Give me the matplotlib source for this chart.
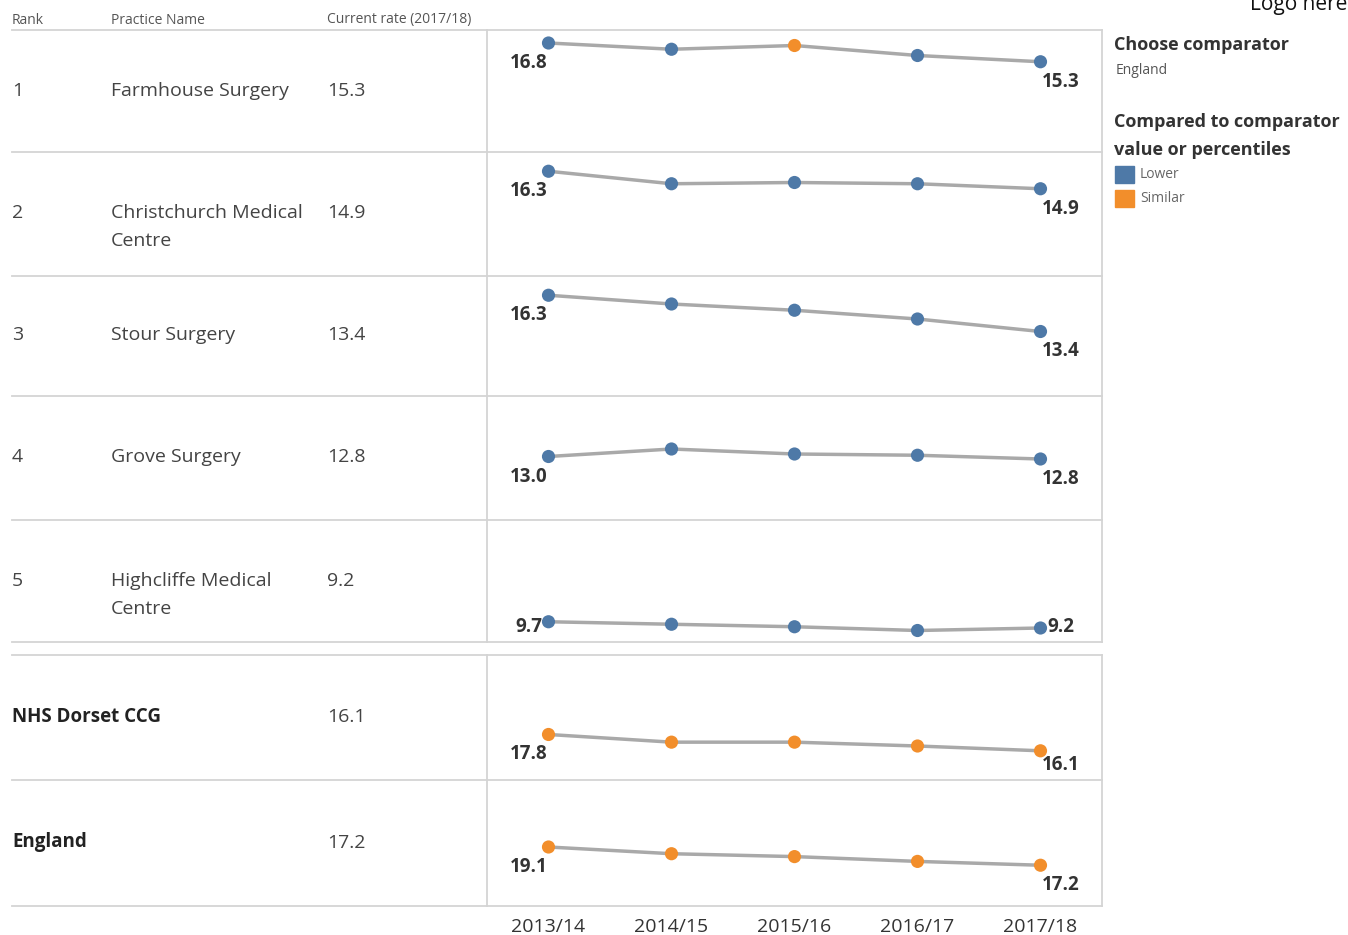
import matplotlib
matplotlib.use("Agg")
import matplotlib.pyplot as plt
from matplotlib.lines import Line2D
from matplotlib.patches import Rectangle

plt.rcParams['font.family'] = ['Open Sans', 'DejaVu Sans']

years = ['2013/14', '2014/15', '2015/16', '2016/17', '2017/18']
ranks = ['1', '2', '3', '4', '5', '', '']
names = [['Farmhouse Surgery'], ['Christchurch Medical', 'Centre'], ['Stour Surgery'],
         ['Grove Surgery'], ['Highcliffe Medical', 'Centre'], ['NHS Dorset CCG'], ['England']]
current = ['15.3', '14.9', '13.4', '12.8', '9.2', '16.1', '17.2']

farmhouse = [16.8, 16.3, 16.6, 15.8, 15.3]
christchurch = [16.3, 15.3, 15.4, 15.3, 14.9]
stour = [16.3, 15.6, 15.1, 14.4, 13.4]
grove = [13.0, 13.6, 13.2, 13.1, 12.8]
highcliffe = [9.7, 9.5, 9.3, 9.0, 9.2]
dorset = [17.8, 17.0, 17.0, 16.6, 16.1]
england = [19.1, 18.4, 18.1, 17.6, 17.2]
series = [farmhouse, christchurch, stour, grove, highcliffe, dorset, england]

# L = lower, S = similar
status = [['L', 'L', 'S', 'L', 'L'], ['L'] * 5, ['L'] * 5, ['L'] * 5, ['L'] * 5,
          ['S'] * 5, ['S'] * 5]
colors = {'L': '#4e79a7', 'S': '#f28e2b'}

W, H = 1348, 935
fig = plt.figure(figsize=(W / 100, H / 100), dpi=100)

def fx(x):
    return x / W

def fy(y):
    return 1 - y / H

# row boundaries in pixels (top, bottom)
rows = [(30, 152), (152, 276), (276, 396), (396, 520), (520, 642), (655, 780), (780, 906)]
x0, x1 = 487, 1102
grid = '#d4d4d4'

# table lines
for y in [30, 152, 276, 396, 520, 642, 655, 780, 906]:
    fig.add_artist(Line2D([fx(12), fx(x1)], [fy(y), fy(y)], color=grid, lw=1.3))
for x in [x0, x1]:
    fig.add_artist(Line2D([fx(x), fx(x)], [fy(30), fy(642)], color=grid, lw=1.3))
    fig.add_artist(Line2D([fx(x), fx(x)], [fy(655), fy(906)], color=grid, lw=1.3))

# header
hdr = dict(fontsize=10, color='#555555', va='center')
fig.text(fx(12), fy(20), 'Rank', **hdr)
fig.text(fx(111), fy(20), 'Practice Name', **hdr)
fig.text(fx(327), fy(20), 'Current rate (2017/18)', **hdr)

fig.text(fx(1250), fy(10), 'Logo here', fontsize=15, color='#111111', va='baseline')

for i, (top, bot) in enumerate(rows):
    cy = (top + bot) / 2 - 0.5
    if i < 5:
        fig.text(fx(12), fy(cy), ranks[i], fontsize=14, color='#444444', va='center')
        for k, line in enumerate(names[i]):
            fig.text(fx(111), fy(cy + 28 * k), line, fontsize=14, color='#444444', va='center')
    else:
        fig.text(fx(12), fy(cy), names[i][0], fontsize=13.5, color='#222222',
                 weight='bold', va='center')
    fig.text(fx(327), fy(cy), current[i], fontsize=14, color='#444444', va='center')

    h = bot - top
    ax = fig.add_axes([fx(x0), fy(bot), (x1 - x0) / W, h / H])
    ax.set_xlim(-0.5, 4.5)
    if i < 5:
        ytop, scale = 16.8 + 13 / 12.5, 12.5
    else:
        ytop, scale = 19.1 + 67 / 9.6, 9.6
    ax.set_ylim(ytop - h / scale, ytop)
    ax.patch.set_visible(False)
    for s in ax.spines.values():
        s.set_visible(False)
    ax.set_yticks([])
    if i < 6:
        ax.set_xticks([])
    else:
        ax.set_xticks(range(5), years)
        ax.tick_params(axis='x', length=0, pad=9, labelsize=14, labelcolor='#333333')

    vals = series[i]
    ax.plot(range(5), vals, color='#a9a9a9', lw=2.5, zorder=1)
    ax.scatter(range(5), vals, s=90, c=[colors[c] for c in status[i]], zorder=2,
               edgecolors='none')

    # value labels at first and last point, kept inside the panel
    for j, dx in [(0, -20), (4, 20)]:
        py = ax.transData.transform((j, vals[j]))[1]
        ybot = ax.transAxes.transform((0, 0))[1]
        dy = min(20, (py - ybot) - 15)
        ax.annotate(f'{vals[j]:.1f}', (j, vals[j]), xytext=(dx, -dy),
                    textcoords='offset pixels', ha='center', va='center',
                    fontsize=13.5, weight='bold', color='#333333', zorder=3)

# legend
fig.text(fx(1114), fy(45), 'Choose comparator', fontsize=13, weight='bold',
         color='#333333', va='center')
fig.text(fx(1116), fy(70), 'England', fontsize=10, color='#555555', va='center')
fig.text(fx(1114), fy(122), 'Compared to comparator', fontsize=13, weight='bold',
         color='#333333', va='center')
fig.text(fx(1114), fy(150), 'value or percentiles', fontsize=13, weight='bold',
         color='#333333', va='center')
for k, (key, lab) in enumerate([('L', 'Lower'), ('S', 'Similar')]):
    yy = 174 + 24 * k
    fig.add_artist(Rectangle((fx(1115), fy(yy + 9)), 19 / W, 17 / H,
                             color=colors[key], transform=fig.transFigure))
    fig.text(fx(1140), fy(yy), lab, fontsize=10, color='#666666', va='center')

fig.savefig('out.png', dpi=100, facecolor='white')
